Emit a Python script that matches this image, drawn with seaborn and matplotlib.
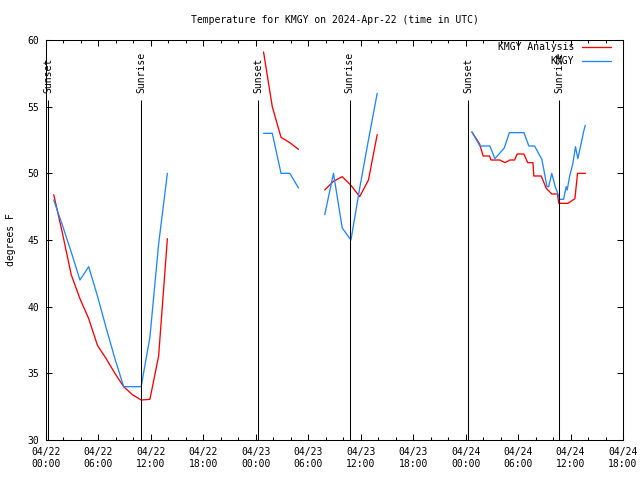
import matplotlib
matplotlib.use("Agg")
import matplotlib.pyplot as plt
import matplotlib.dates as mdates
from matplotlib.lines import Line2D
import seaborn as sns
import pandas as pd

# ---------------- data ----------------
seg1_times = ["2024-04-22 00:53", "2024-04-22 01:53", "2024-04-22 02:53", "2024-04-22 03:53",
              "2024-04-22 04:53", "2024-04-22 05:53", "2024-04-22 06:53", "2024-04-22 07:53",
              "2024-04-22 08:53", "2024-04-22 09:53", "2024-04-22 10:53", "2024-04-22 11:53",
              "2024-04-22 12:53", "2024-04-22 13:53"]
seg1_analysis = [48.4, 45.5, 42.4, 40.6, 39.1, 37.1, 36.1, 35.0, 34.0, 33.4, 33.0, 33.05, 36.3, 45.1]
seg1_obs = [48.0, 46.1, 44.1, 42.0, 43.0, 40.8, 38.4, 36.1, 34.0, 34.0, 34.0, 37.7, 44.7, 50.0]

seg2_times = ["2024-04-23 00:53", "2024-04-23 01:53", "2024-04-23 02:53", "2024-04-23 03:53",
              "2024-04-23 04:53"]
seg2_analysis = [59.1, 55.0, 52.7, 52.3, 51.8]
seg2_obs = [53.0, 53.0, 50.0, 50.0, 48.9]

seg3_times = ["2024-04-23 07:53", "2024-04-23 08:53", "2024-04-23 09:53", "2024-04-23 10:53",
              "2024-04-23 11:53", "2024-04-23 12:53", "2024-04-23 13:53"]
seg3_analysis = [48.75, 49.4, 49.75, 49.1, 48.25, 49.5, 52.9]
seg3_obs = [46.9, 50.0, 45.9, 45.0, 48.9, 52.5, 56.0]

seg4_analysis_times = ["2024-04-24 00:43", "2024-04-24 01:36", "2024-04-24 02:00", "2024-04-24 02:44",
                       "2024-04-24 02:54", "2024-04-24 03:54", "2024-04-24 04:30", "2024-04-24 05:04",
                       "2024-04-24 05:36", "2024-04-24 05:54", "2024-04-24 06:40", "2024-04-24 07:06",
                       "2024-04-24 07:42", "2024-04-24 07:48", "2024-04-24 08:39", "2024-04-24 09:12",
                       "2024-04-24 09:51", "2024-04-24 10:30", "2024-04-24 10:39", "2024-04-24 11:42",
                       "2024-04-24 12:30", "2024-04-24 12:48", "2024-04-24 13:42"]
seg4_analysis = [53.1, 52.2, 51.3, 51.3, 51.0, 51.0, 50.8, 51.0, 51.0, 51.45, 51.45, 50.8,
                 50.8, 49.8, 49.8, 48.9, 48.45, 48.45, 47.75, 47.75, 48.1, 50.0, 50.0]

seg4_obs_times = ["2024-04-24 00:43", "2024-04-24 01:38", "2024-04-24 02:46", "2024-04-24 03:21",
                  "2024-04-24 04:25", "2024-04-24 05:00", "2024-04-24 06:40", "2024-04-24 07:14",
                  "2024-04-24 07:53", "2024-04-24 08:43", "2024-04-24 08:57", "2024-04-24 09:18",
                  "2024-04-24 09:30", "2024-04-24 09:51", "2024-04-24 10:15", "2024-04-24 10:32",
                  "2024-04-24 10:44", "2024-04-24 11:12", "2024-04-24 11:30", "2024-04-24 11:37",
                  "2024-04-24 11:53", "2024-04-24 12:16", "2024-04-24 12:34", "2024-04-24 12:50",
                  "2024-04-24 13:13", "2024-04-24 13:29", "2024-04-24 13:41"]
seg4_obs = [53.1, 52.05, 52.05, 51.1, 51.9, 53.05, 53.05, 52.05, 52.05, 51.05, 50.25, 49.0,
            49.0, 50.0, 49.0, 48.5, 48.05, 48.05, 49.0, 48.75, 49.75, 50.75, 52.0, 51.1,
            52.25, 53.1, 53.6]

sun_times = ["2024-04-22 00:14", "2024-04-22 10:52", "2024-04-23 00:16",
             "2024-04-23 10:45", "2024-04-24 00:17", "2024-04-24 10:40"]
sun_labels = ["Sunset", "Sunrise", "Sunset", "Sunrise", "Sunset", "Sunrise"]

series_names = ["KMGY Analysis", "KMGY"]
series_colors = ["#FF0000", "#1E88FF"]

# ---------------- long table ----------------
rows = []
def add(times, vals, name, seg):
    for t, v in zip(times, vals):
        rows.append({"time": pd.Timestamp(t), "temp": v, "series": name, "seg": seg})

add(seg1_times, seg1_analysis, series_names[0], 1)
add(seg2_times, seg2_analysis, series_names[0], 2)
add(seg3_times, seg3_analysis, series_names[0], 3)
add(seg4_analysis_times, seg4_analysis, series_names[0], 4)
add(seg1_times, seg1_obs, series_names[1], 1)
add(seg2_times, seg2_obs, series_names[1], 2)
add(seg3_times, seg3_obs, series_names[1], 3)
add(seg4_obs_times, seg4_obs, series_names[1], 4)
df = pd.DataFrame(rows)

# ---------------- plot ----------------
sns.set_style("ticks")
plt.rcParams["font.family"] = ["DejaVu Sans Mono"]
for k in ["text.color", "axes.labelcolor", "xtick.color", "ytick.color", "axes.edgecolor"]:
    plt.rcParams[k] = "black"
FS = 7
LW = 0.75
DLW = 0.95

fig = plt.figure(figsize=(6.4, 4.8), dpi=100)
ax = fig.add_axes([46 / 640, 40 / 480, 577 / 640, 400 / 480])

sns.lineplot(data=df, x="time", y="temp", hue="series", units="seg", estimator=None,
             hue_order=series_names, palette=dict(zip(series_names, series_colors)),
             linewidth=DLW, legend=False, ax=ax, sort=True)

sun_ts = [pd.Timestamp(t) for t in sun_times]
ax.vlines(sun_ts, 30, 55.5, colors="black", linewidth=LW)
for t, lab in zip(sun_ts, sun_labels):
    ax.text(t, 56.0, lab, rotation=90, ha="center", va="bottom", fontsize=FS, color="black")

ax.set_xlim(pd.Timestamp("2024-04-22 00:00"), pd.Timestamp("2024-04-24 18:00"))
ax.set_ylim(30, 60)
ax.set_yticks([30, 35, 40, 45, 50, 55, 60])
ax.xaxis.set_major_locator(mdates.HourLocator(byhour=[0, 6, 12, 18]))
ax.xaxis.set_minor_locator(mdates.HourLocator(byhour=list(range(0, 24, 2))))
ax.xaxis.set_major_formatter(mdates.DateFormatter("%m/%d\n%H:%M"))

ax.tick_params(axis="both", which="major", direction="in", length=4.5, width=LW,
               top=True, right=True, labelsize=FS, pad=5, colors="black")
ax.tick_params(axis="x", which="minor", direction="in", length=2.5, width=LW, top=True,
               colors="black")
for s in ax.spines.values():
    s.set_linewidth(LW)
    s.set_color("black")

ax.set_xlabel("")
ax.set_ylabel("degrees F", fontsize=FS, color="black")
ax.yaxis.set_label_coords(-0.052, 0.5)
ax.set_title("Temperature for KMGY on 2024-Apr-22 (time in UTC)", fontsize=FS, pad=12,
             color="black")

handles = [Line2D([0], [0], color=c, linewidth=DLW) for c in series_colors]
leg = ax.legend(handles, series_names, loc="upper right", bbox_to_anchor=(611 / 640, 1 - 42 / 480),
                bbox_transform=fig.transFigure, frameon=False, markerfirst=False,
                fontsize=FS, handlelength=3.0, handletextpad=0.8, labelspacing=0.45,
                borderpad=0.0, borderaxespad=0.0)
for t in leg.get_texts():
    t.set_color("black")

fig.savefig("out.png", dpi=100)
